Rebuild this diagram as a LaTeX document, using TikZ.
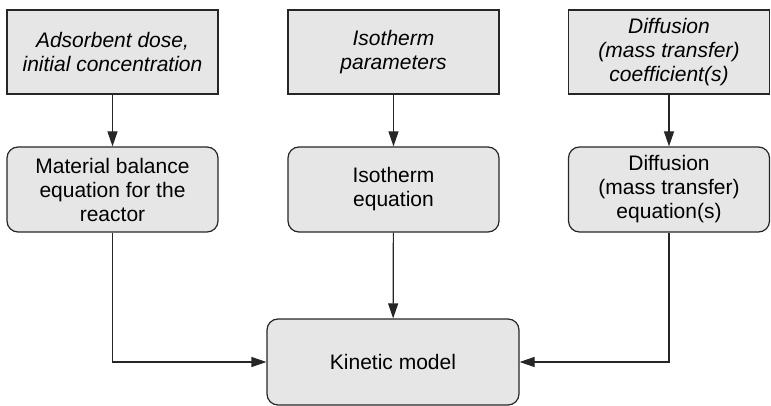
\documentclass[tikz,border=0pt]{standalone}
\usepackage{fontspec}
\setmainfont{Liberation Sans}
\usetikzlibrary{arrows.meta}
\definecolor{boxfill}{RGB}{230,230,230}
\tikzset{
  basebox/.style={draw=black!85, line width=1.2pt, fill=boxfill, align=center,
    font=\fontsize{21}{24}\selectfont, inner sep=0pt, anchor=center},
  inbox/.style={basebox, font=\fontsize{21}{24}\selectfont\itshape},
  eqbox/.style={basebox, rounded corners=11pt},
  conn/.style={draw=black!85, line width=1.2pt, -{Triangle[length=15pt,width=10pt]}}
}
\begin{document}
\begin{tikzpicture}[x=1pt,y=-1pt]
\useasboundingbox (0,0) rectangle (771,406);
\node[inbox, minimum width=211pt, minimum height=84pt] (t1) at (112.5,52) {Adsorbent dose,\\initial concentration};
\node[inbox, minimum width=211pt, minimum height=84pt] (t2) at (393.5,52) {Isotherm\\parameters};
\node[inbox, minimum width=201pt, minimum height=84pt] (t3) at (669,52) {Diffusion\\(mass transfer)\\coefficient(s)};
\node[eqbox, minimum width=211pt, minimum height=85pt] (m1) at (112.5,189.5) {Material balance\\equation for the\\reactor};
\node[eqbox, minimum width=211pt, minimum height=85pt] (m2) at (393.5,189.5) {Isotherm\\equation};
\node[eqbox, minimum width=201pt, minimum height=85pt] (m3) at (669,189.5) {Diffusion\\(mass transfer)\\equation(s)};
\node[eqbox, minimum width=252pt, minimum height=86pt] (k) at (393,362) {Kinetic model};
\draw[conn] (t1) -- (m1);
\draw[conn] (t2) -- (m2);
\draw[conn] (t3) -- (m3);
\draw[conn] (m2) -- (k);
\draw[conn] (m1.south) |- (k.west);
\draw[conn] (m3.south) |- (k.east);
\end{tikzpicture}
\end{document}
